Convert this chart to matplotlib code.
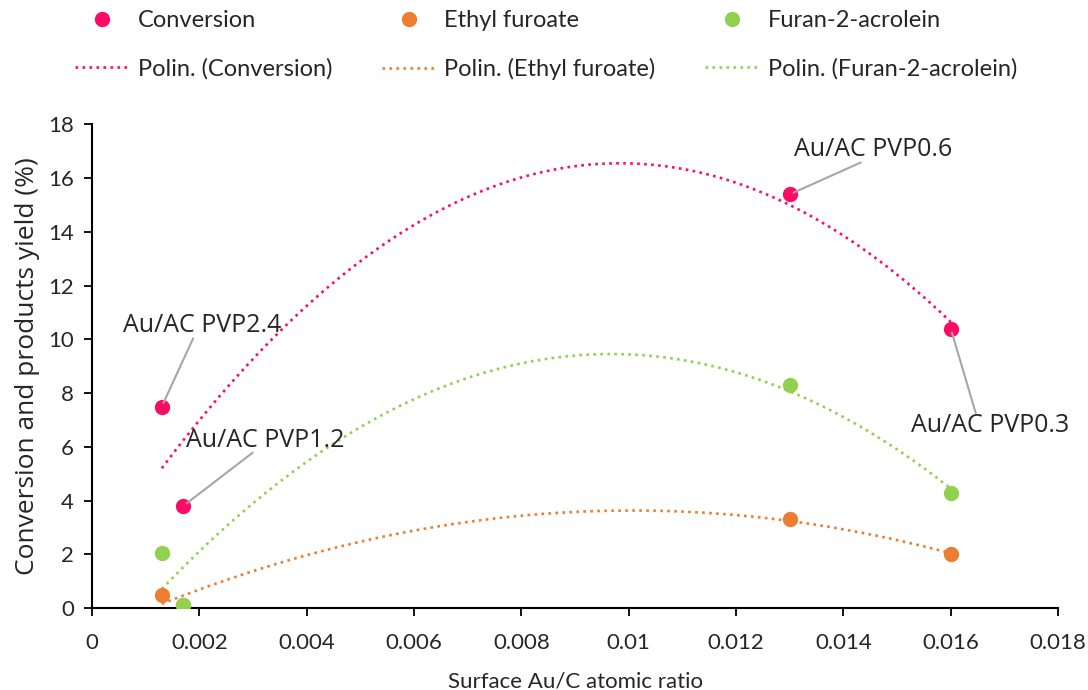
import numpy as np
import matplotlib.pyplot as plt

# surface Au/C atomic ratio of the four catalysts
ratio = [0.0013, 0.0017, 0.013, 0.016]
catalysts = ['Au/AC PVP2.4', 'Au/AC PVP1.2', 'Au/AC PVP0.6', 'Au/AC PVP0.3']

conversion = [7.5, 3.8, 15.4, 10.4]
ethyl_furoate = [0.5, 0.1, 3.3, 2.0]
furan_acrolein = [2.05, 0.1, 8.3, 4.3]

series_names = ['Conversion', 'Ethyl furoate', 'Furan-2-acrolein']
colors = ['#FF0A64', '#ED7D31', '#92D050']

xticks = [0, 0.002, 0.004, 0.006, 0.008, 0.01, 0.012, 0.014, 0.016, 0.018]
yticks = [0, 2, 4, 6, 8, 10, 12, 14, 16, 18]

plt.rcParams['font.family'] = ['Lato', 'DejaVu Sans']

fig = plt.figure(figsize=(10.88, 6.9), dpi=100)
ax = fig.add_axes([0.0846, 0.1188, 0.8879, 0.7008])

x_fit = np.linspace(min(ratio), max(ratio), 200)
handles = []
for name, vals, c in zip(series_names, [conversion, ethyl_furoate, furan_acrolein], colors):
    # second order polynomial trend line, as Excel's "Polin." trendline
    coef = np.polyfit(ratio, vals, 2)
    trend, = ax.plot(x_fit, np.polyval(coef, x_fit), linestyle=':', color=c,
                     lw=1.9, zorder=2, label='Polin. (%s)' % name)
    pts, = ax.plot(ratio, vals, linestyle='none', marker='o', ms=10,
                   color=c, zorder=3, label=name)
    handles += [pts, trend]

# callouts for the conversion points: (text x, text y, relpos)
callouts = [(0.00206, 10.5, (0.44, 0.0)),
            (0.00323, 6.25, (0.42, 0.0)),
            (0.01456, 17.05, (0.42, 0.0)),
            (0.01673, 6.8, (0.41, 1.0))]
for (tx, ty, rp), name, xv, yv in zip(callouts, catalysts, ratio, conversion):
    ax.annotate(name, xy=(xv, yv), xytext=(tx, ty), ha='center', va='center',
                fontsize=18, family=['Open Sans', 'DejaVu Sans'], color='#262626',
                arrowprops=dict(arrowstyle='-', color='#A6A6A6', lw=1.5,
                                relpos=rp, patchA=None, shrinkA=0, shrinkB=3),
                zorder=4)

ax.set_xlim(0, 0.018)
ax.set_ylim(0, 18)
ax.set_xticks(xticks)
ax.set_xticklabels([('%g' % t) for t in xticks])
ax.set_yticks(yticks)
ax.tick_params(axis='both', direction='out', length=6, width=1.3, labelsize=16,
               colors='black', labelcolor='#262626')
ax.tick_params(axis='x', pad=12)
ax.tick_params(axis='y', pad=7)
for s in ['top', 'right']:
    ax.spines[s].set_visible(False)
for s in ['left', 'bottom']:
    ax.spines[s].set_linewidth(1.5)

ax.set_xlabel('Surface Au/C atomic ratio', fontsize=16, color='#262626', labelpad=13)
ax.set_ylabel('Conversion and products yield (%)', fontsize=19, color='#262626',
              family=['Open Sans', 'DejaVu Sans'], labelpad=6)

fig.legend(handles=handles, ncol=3, loc='upper left', bbox_to_anchor=(0.069, 0.985),
           frameon=False, fontsize=17, handlelength=2.3, handletextpad=0.35,
           columnspacing=2.1, labelspacing=1.12, borderpad=0, borderaxespad=0,
           labelcolor='#262626')

fig.savefig('out.png', dpi=100)
